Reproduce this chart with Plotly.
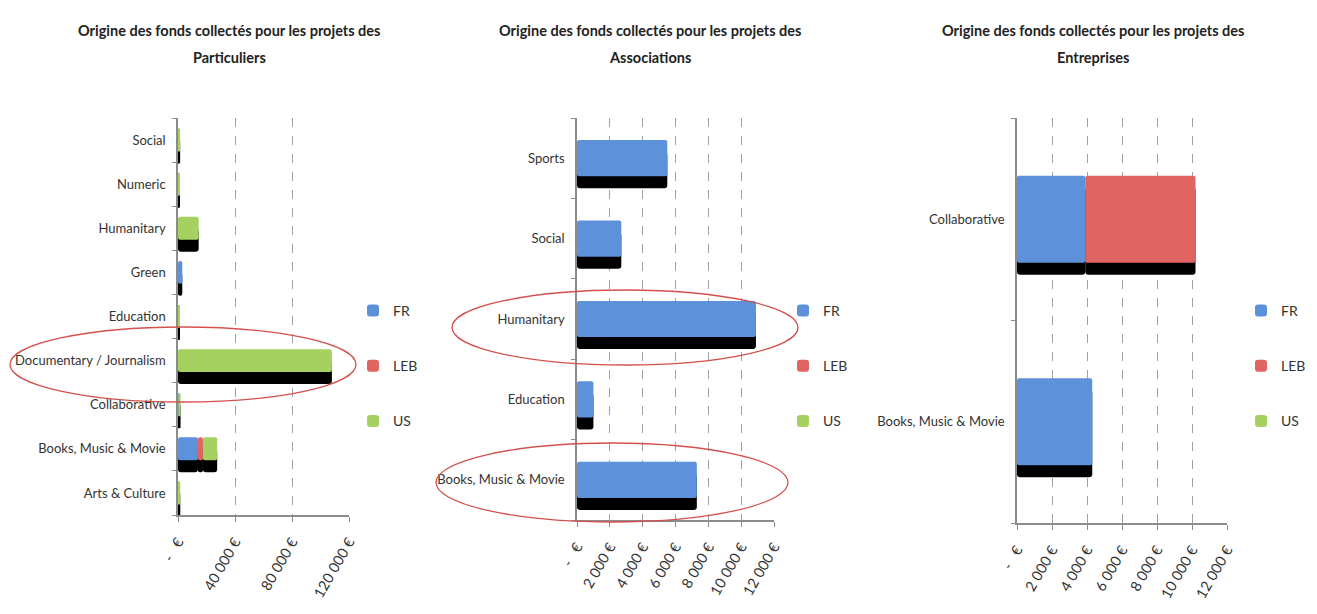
import plotly.graph_objects as go

W, H = 1317, 614
FONT = "Lato, Roboto, Open Sans, sans-serif"

series = ["FR", "LEB", "US"]
colors = {"FR": "#5d91d9", "LEB": "#df6462", "US": "#a5d160"}

# --- Particuliers (categories listed bottom to top) ---
part_cats = ["Arts & Culture", "Books, Music & Movie", "Collaborative",
             "Documentary / Journalism", "Education", "Green", "Humanitary",
             "Numeric", "Social"]
part_fr = [600, 14000, 300, 0, 500, 3000, 0, 400, 600]
part_leb = [0, 3500, 0, 0, 0, 0, 0, 0, 0]
part_us = [1000, 10000, 1500, 108000, 800, 0, 14500, 700, 900]
part_tickvals = [0, 40000, 80000, 120000]
part_ticktext = ["-\u00a0\u00a0\u00a0€", "40 000 €", "80 000 €", "120 000 €"]

# --- Associations ---
assoc_cats = ["Books, Music & Movie", "Education", "Humanitary", "Social", "Sports"]
assoc_fr = [7300, 1000, 10900, 2700, 5500]
assoc_leb = [0, 0, 0, 0, 0]
assoc_us = [0, 0, 0, 0, 0]

# --- Entreprises ---
entr_cats = ["Books, Music & Movie", "Collaborative"]
entr_fr = [4300, 3900]
entr_leb = [0, 6300]
entr_us = [0, 0]

euro_tickvals = [0, 2000, 4000, 6000, 8000, 10000, 12000]
euro_ticktext = ["-\u00a0\u00a0\u00a0€", "2 000 €", "4 000 €", "6 000 €",
                 "8 000 €", "10 000 €", "12 000 €"]

panels = [
    dict(title="Particuliers", cats=part_cats,
         values={"FR": part_fr, "LEB": part_leb, "US": part_us},
         xrange=[0, 120000], tickvals=part_tickvals, ticktext=part_ticktext,
         xdom=[178, 349], ytop=118, ybot=515, barw=0.52, title_cx=229,
         legend_x=353),
    dict(title="Associations", cats=assoc_cats,
         values={"FR": assoc_fr, "LEB": assoc_leb, "US": assoc_us},
         xrange=[0, 12000], tickvals=euro_tickvals, ticktext=euro_ticktext,
         xdom=[577, 774], ytop=118, ybot=520, barw=0.45, title_cx=650,
         legend_x=783),
    dict(title="Entreprises", cats=entr_cats,
         values={"FR": entr_fr, "LEB": entr_leb, "US": entr_us},
         xrange=[0, 12000], tickvals=euro_tickvals, ticktext=euro_ticktext,
         xdom=[1017, 1227], ytop=118, ybot=523, barw=0.43, title_cx=1093,
         legend_x=1241),
]

SHADOW_PX = 12

fig = go.Figure()
layout = dict(
    width=W, height=H, autosize=False,
    margin=dict(l=0, r=0, t=0, b=0, autoexpand=False),
    paper_bgcolor="white", plot_bgcolor="white",
    barmode="overlay", showlegend=True,
    font=dict(family=FONT, size=14, color="#333333"),
    annotations=[], shapes=[],
)

for i, p in enumerate(panels):
    n = i + 1
    xa = "x" if n == 1 else f"x{n}"
    ya = "y" if n == 1 else f"y{n}"
    leg = "legend" if n == 1 else f"legend{n}"
    band_px = (p["ybot"] - p["ytop"]) / len(p["cats"])
    shift = SHADOW_PX / band_px
    w = p["barw"]

    # stacked bases built from the series values
    bases = {}
    run = [0] * len(p["cats"])
    for s in series:
        bases[s] = list(run)
        run = [a + b for a, b in zip(run, p["values"][s])]

    # drop shadows behind each segment
    for s in series:
        fig.add_trace(go.Bar(
            orientation="h", y=p["cats"], x=p["values"][s], base=bases[s],
            xaxis=xa, yaxis=ya, width=w, offset=-w / 2 - shift,
            marker=dict(color="#000000", line=dict(width=0), cornerradius=3),
            showlegend=False, hoverinfo="skip",
        ))
    # coloured segments
    for s in series:
        fig.add_trace(go.Bar(
            orientation="h", y=p["cats"], x=p["values"][s], base=bases[s],
            xaxis=xa, yaxis=ya, width=w, offset=-w / 2, name=s,
            marker=dict(color=colors[s], line=dict(width=0), cornerradius=2),
            legend=leg, legendgroup=f"{leg}-{s}",
        ))

    xdom = [p["xdom"][0] / W, p["xdom"][1] / W]
    ydom = [1 - p["ybot"] / H, 1 - p["ytop"] / H]
    xkey = "xaxis" if n == 1 else f"xaxis{n}"
    ykey = "yaxis" if n == 1 else f"yaxis{n}"
    layout[xkey] = dict(
        domain=xdom, anchor=ya, range=p["xrange"], tickmode="array",
        tickvals=p["tickvals"], ticktext=p["ticktext"], tickangle=-60,
        showgrid=True, gridcolor="#a0a0a0", griddash="dash", gridwidth=1,
        showline=True, linecolor="#8c8c8c", linewidth=1.5,
        ticks="outside", ticklen=5, tickcolor="#8c8c8c",
        ticklabelstandoff=6,
        zeroline=False, automargin=False,
        tickfont=dict(family=FONT, size=14.5, color="#333333"),
        fixedrange=True,
    )
    layout[ykey] = dict(
        domain=ydom, anchor=xa, type="category",
        categoryorder="array", categoryarray=p["cats"],
        range=[-0.5, len(p["cats"]) - 0.5],
        showline=True, linecolor="#8c8c8c", linewidth=1.5,
        ticks="outside", ticklen=4, tickcolor="#8c8c8c", tickson="boundaries",
        ticklabelstandoff=8,
        showgrid=False, zeroline=False, automargin=False,
        tickfont=dict(family=FONT, size=13, color="#333333"),
        fixedrange=True,
    )
    layout[leg] = dict(
        x=p["legend_x"] / W, y=1 - 295 / H, xanchor="left", yanchor="top",
        traceorder="grouped", tracegroupgap=34, bgcolor="rgba(0,0,0,0)",
        font=dict(family=FONT, size=14, color="#333333"), itemwidth=30,
    )

    # two-line panel title
    layout["annotations"].append(dict(
        text="<b>Origine des fonds collectés pour les projets des</b>",
        x=p["title_cx"] / W, y=1 - 30 / H, xref="paper", yref="paper",
        xanchor="center", yanchor="middle", showarrow=False,
        font=dict(family=FONT, size=14.5, color="#222222"),
    ))
    layout["annotations"].append(dict(
        text=f"<b>{p['title']}</b>",
        x=p["title_cx"] / W, y=1 - 57 / H, xref="paper", yref="paper",
        xanchor="center", yanchor="middle", showarrow=False,
        font=dict(family=FONT, size=14.5, color="#222222"),
    ))

# red highlight ellipses around the notable categories
ellipses = [(10, 327, 356, 402), (452, 290, 798, 365), (436, 443, 788, 522)]
for x0, y0, x1, y1 in ellipses:
    layout["shapes"].append(dict(
        type="circle", xref="paper", yref="paper",
        x0=x0 / W, x1=x1 / W, y0=1 - y1 / H, y1=1 - y0 / H,
        line=dict(color="#d4504c", width=1.3), layer="above",
    ))

fig.update_layout(**layout)
fig.write_html("out.html")
